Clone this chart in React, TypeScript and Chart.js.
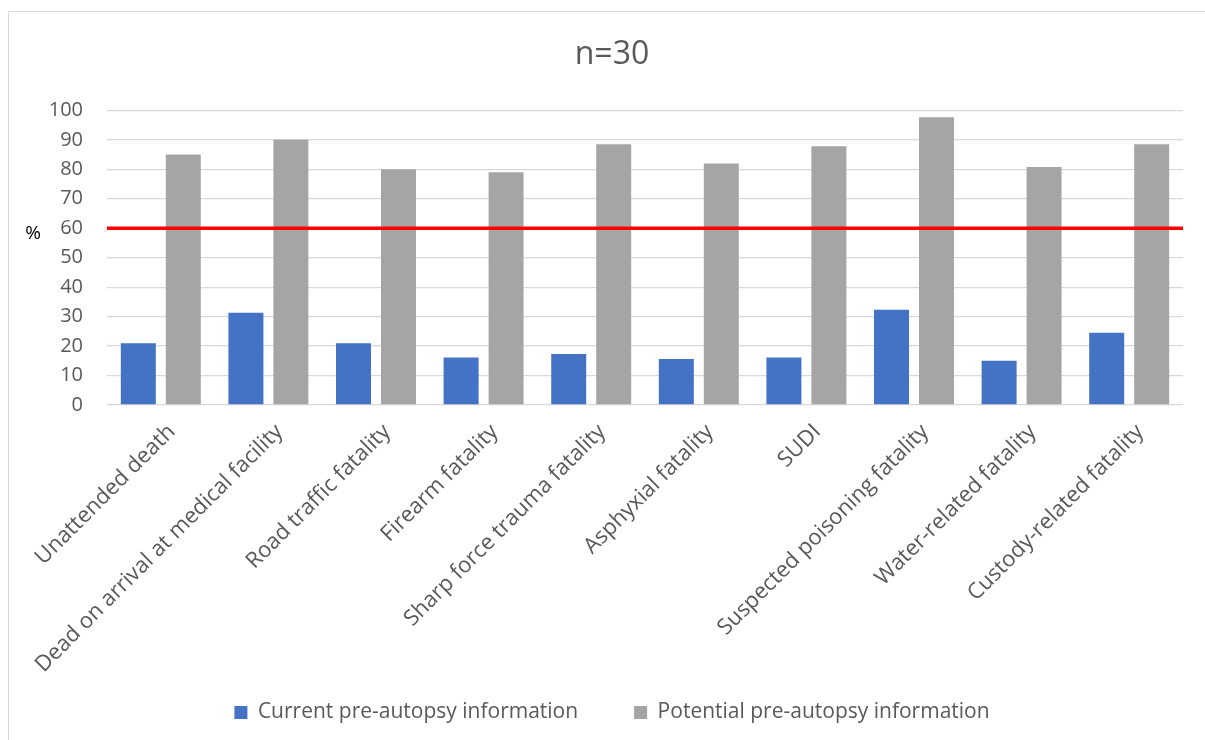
import React, { useEffect, useRef } from "react";
import { Chart, registerables } from "chart.js";

Chart.register(...registerables);

const categories = [
  "Unattended death",
  "Dead on arrival at medical facility",
  "Road traffic fatality",
  "Firearm fatality",
  "Sharp force trauma fatality",
  "Asphyxial fatality",
  "SUDI",
  "Suspected poisoning fatality",
  "Water-related fatality",
  "Custody-related fatality",
];

const currentInfo = [21, 31.3, 21, 16.1, 17.3, 15.6, 16.1, 32.3, 15, 24.5];
const potentialInfo = [85, 90, 80, 79, 88.5, 82, 87.8, 97.7, 80.8, 88.5];

const threshold = 60;
const yTicks = { min: 0, max: 100, step: 10 };
const chartTitle = "n=30";
const axisUnit = "%";

const FONT = "'Open Sans', 'DejaVu Sans', sans-serif";
const TEXT = "#595959";

// Red threshold line across the plot area plus the horizontal unit label
const thresholdPlugin = {
  id: "thresholdLine",
  afterLayout(chart: any) {
    // let the long rotated category labels run below the reserved axis box
    const x = chart.scales.x;
    x.bottom = x.top + 290;
  },
  afterDatasetsDraw(chart: any) {
    const { ctx, chartArea, scales } = chart;
    const y = scales.y.getPixelForValue(threshold);
    ctx.save();
    ctx.strokeStyle = "#FF0000";
    ctx.lineWidth = 3.5;
    ctx.beginPath();
    ctx.moveTo(chartArea.left, y);
    ctx.lineTo(chartArea.right, y);
    ctx.stroke();

    ctx.fillStyle = "#000000";
    ctx.font = `19px ${FONT}`;
    ctx.textAlign = "center";
    ctx.textBaseline = "middle";
    ctx.fillText(axisUnit, 24, y + 5);
    ctx.restore();
  },
};

export default function App() {
  const canvasRef = useRef<HTMLCanvasElement | null>(null);

  useEffect(() => {
    if (!canvasRef.current) return;
    const chart = new Chart(canvasRef.current, {
      type: "bar",
      data: {
        labels: categories,
        datasets: [
          {
            label: "Current pre-autopsy information",
            data: currentInfo,
            backgroundColor: "#4472C4",
            borderWidth: 0,
            categoryPercentage: 0.836,
            barPercentage: 0.778,
          },
          {
            label: "Potential pre-autopsy information",
            data: potentialInfo,
            backgroundColor: "#A5A5A5",
            borderWidth: 0,
            categoryPercentage: 0.836,
            barPercentage: 0.778,
          },
        ],
      },
      options: {
        animation: false,
        responsive: false,
        maintainAspectRatio: false,
        layout: { padding: { left: 10, right: 0, top: 0, bottom: 7 } },
        plugins: {
          title: {
            display: true,
            text: chartTitle,
            color: TEXT,
            font: { family: FONT, size: 32, weight: "normal" },
            padding: { top: 24, bottom: 36 },
          },
          legend: {
            position: "bottom",
            labels: {
              color: TEXT,
              font: { family: FONT, size: 21 },
              boxWidth: 13,
              boxHeight: 13,
              padding: 56,
            },
          },
          tooltip: { enabled: false },
        },
        scales: {
          x: {
            grid: { display: false, drawTicks: false },
            border: { display: false },
            ticks: {
              color: TEXT,
              font: { family: FONT, size: 22 },
              minRotation: 45,
              maxRotation: 45,
              autoSkip: false,
              padding: 14,
              labelOffset: 11,
            },
            afterFit(scale: any) {
              scale.height = 241;
            },
          },
          y: {
            min: yTicks.min,
            max: yTicks.max,
            grid: { color: "#D9D9D9", lineWidth: 1.3, drawTicks: false },
            border: { display: false },
            ticks: {
              stepSize: yTicks.step,
              color: TEXT,
              font: { family: FONT, size: 20 },
              padding: 24,
            },
            afterFit(scale: any) {
              scale.width = 88;
            },
          },
          // empty right-hand axis that only reserves the right margin
          yRight: {
            position: "right",
            display: true,
            grid: { display: false, drawTicks: false },
            border: { display: false },
            ticks: { display: false },
            afterFit(scale: any) {
              scale.width = 22;
            },
          },
        },
      },
      plugins: [thresholdPlugin],
    });
    return () => chart.destroy();
  }, []);

  return (
    <div
      style={{
        position: "absolute",
        left: 8,
        top: 11,
        width: 1197,
        height: 729,
        boxSizing: "border-box",
        borderLeft: "1px solid #D9D9D9",
        borderTop: "1px solid #D9D9D9",
        background: "#FFFFFF",
        overflow: "hidden",
      }}
    >
      <canvas ref={canvasRef} width={1196} height={728} style={{ display: "block" }} />
    </div>
  );
}
